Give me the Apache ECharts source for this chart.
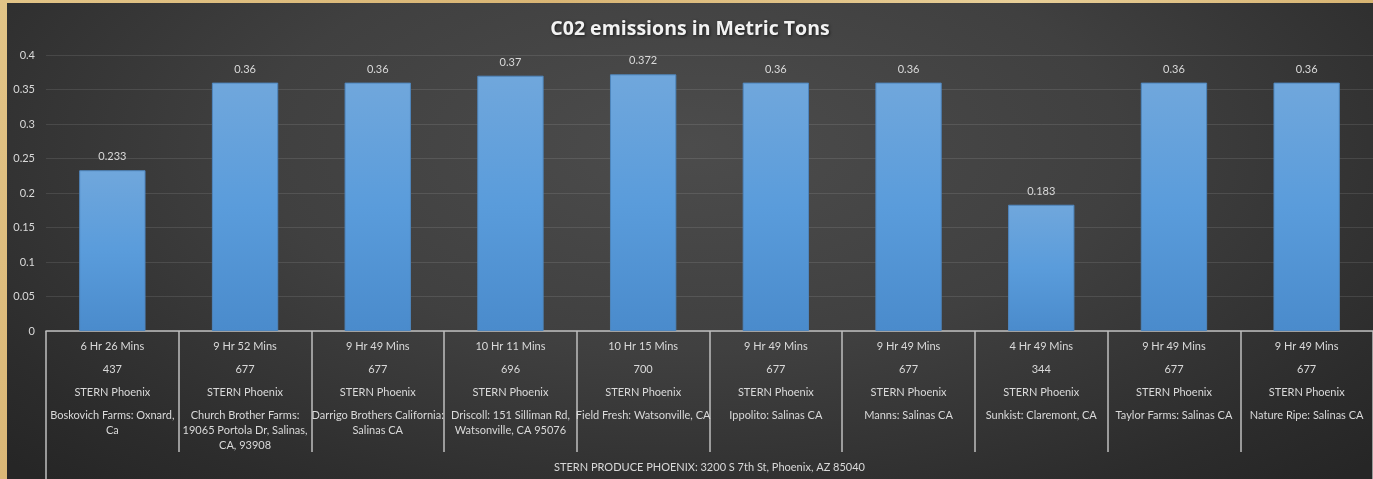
<!DOCTYPE html>
<html>
<head>
<meta charset="utf-8">
<script src="https://cdn.jsdelivr.net/npm/echarts@6/dist/echarts.min.js"></script>
<style>
  html, body { margin: 0; padding: 0; width: 1373px; height: 479px; overflow: hidden; }
  body { background: linear-gradient(135deg, #e2c487 0%, #d9b574 30%, #e8cf98 55%, #d2ab66 80%, #e0c28a 100%); }
  #chart {
    position: absolute; left: 7px; top: 3px; width: 1366px; height: 476px;
    background: radial-gradient(ellipse 70% 95% at 50% 30%, #4c4c4c 0%, #404040 45%, #2c2c2c 85%, #262626 100%);
  }
</style>
</head>
<body>
<div id="chart"></div>
<script>
const title = 'C02 emissions in Metric Tons';
const times = ['6 Hr 26 Mins', '9 Hr 52 Mins', '9 Hr 49 Mins', '10 Hr 11 Mins', '10 Hr 15 Mins', '9 Hr 49 Mins', '9 Hr 49 Mins', '4 Hr 49 Mins', '9 Hr 49 Mins', '9 Hr 49 Mins'];
const distances = ['437', '677', '677', '696', '700', '677', '677', '344', '677', '677'];
const origins = ['STERN Phoenix', 'STERN Phoenix', 'STERN Phoenix', 'STERN Phoenix', 'STERN Phoenix', 'STERN Phoenix', 'STERN Phoenix', 'STERN Phoenix', 'STERN Phoenix', 'STERN Phoenix'];
const destinations = [
  'Boskovich Farms: Oxnard,\nCa',
  'Church Brother Farms:\n19065 Portola Dr, Salinas,\nCA, 93908',
  'Darrigo Brothers California:\nSalinas CA',
  'Driscoll: 151 Silliman Rd,\nWatsonville, CA 95076',
  'Field Fresh: Watsonville, CA',
  'Ippolito: Salinas CA',
  'Manns: Salinas CA',
  'Sunkist: Claremont, CA',
  'Taylor Farms: Salinas CA',
  'Nature Ripe: Salinas CA'
];
const groupLabel = ['STERN PRODUCE PHOENIX: 3200 S 7th St, Phoenix, AZ 85040'];
const emissions = [0.233, 0.36, 0.36, 0.37, 0.372, 0.36, 0.36, 0.183, 0.36, 0.36];

const FONT = 'Lato';
const TXT = '#d9d9d9';
const AXIS = '#bfbfbf';

const chart = echarts.init(document.getElementById('chart'), null, { renderer: 'canvas' });
chart.setOption({
  backgroundColor: 'transparent',
  animation: false,
  title: {
    text: title,
    left: 'center',
    top: 11,
    textStyle: {
      fontFamily: 'Open Sans', fontSize: 19.5, fontWeight: 'bold', color: '#f2f2f2',
      textShadowColor: 'rgba(0,0,0,0.6)', textShadowBlur: 3, textShadowOffsetX: 1, textShadowOffsetY: 1
    }
  },
  grid: { left: 39, top: 52, width: 1330, height: 276, containLabel: false },
  xAxis: [
    {
      type: 'category',
      data: times,
      position: 'bottom',
      axisLine: { show: true, lineStyle: { color: AXIS, width: 1.5 } },
      axisTick: { show: true, interval: 0, length: 121, lineStyle: { color: AXIS, width: 1.5 } },
      axisLabel: {
        interval: 0, margin: 3.5, lineHeight: 23,
        color: TXT, fontFamily: FONT, fontSize: 11,
        formatter: (v, i) => v + '\n' + distances[i] + '\n' + origins[i]
      },
      splitLine: { show: false }
    },
    {
      type: 'category',
      data: destinations,
      position: 'bottom',
      offset: 0,
      axisLine: { show: false },
      axisTick: { show: false },
      axisLabel: { interval: 0, margin: 76.5, lineHeight: 15, color: TXT, fontFamily: FONT, fontSize: 11 },
      splitLine: { show: false }
    },
    {
      type: 'category',
      data: groupLabel,
      position: 'bottom',
      offset: 0,
      axisLine: { show: false },
      axisTick: { show: true, interval: 0, length: 150, lineStyle: { color: AXIS, width: 1.5 } },
      axisLabel: { interval: 0, margin: 129, lineHeight: 14, color: TXT, fontFamily: FONT, fontSize: 11 },
      splitLine: { show: false }
    }
  ],
  yAxis: {
    type: 'value',
    min: 0, max: 0.4, interval: 0.05,
    axisLine: { show: false },
    axisTick: { show: false },
    axisLabel: { color: TXT, fontFamily: FONT, fontSize: 11, margin: 11 },
    splitLine: { lineStyle: { color: 'rgba(255,255,255,0.1)', width: 1 } }
  },
  series: [{
    type: 'bar',
    xAxisIndex: 0,
    data: emissions,
    barWidth: '50%',
    itemStyle: {
      color: {
        type: 'linear', x: 0, y: 0, x2: 0, y2: 1,
        colorStops: [
          { offset: 0, color: '#70a7dc' },
          { offset: 0.5, color: '#5a9cdb' },
          { offset: 1, color: '#4a8bcc' }
        ]
      },
      borderColor: '#4f86bd',
      borderWidth: 1
    },
    label: {
      show: true, position: 'top', distance: 8,
      color: TXT, fontFamily: FONT, fontSize: 11,
      formatter: p => String(p.value)
    }
  }]
});
</script>
</body>
</html>
